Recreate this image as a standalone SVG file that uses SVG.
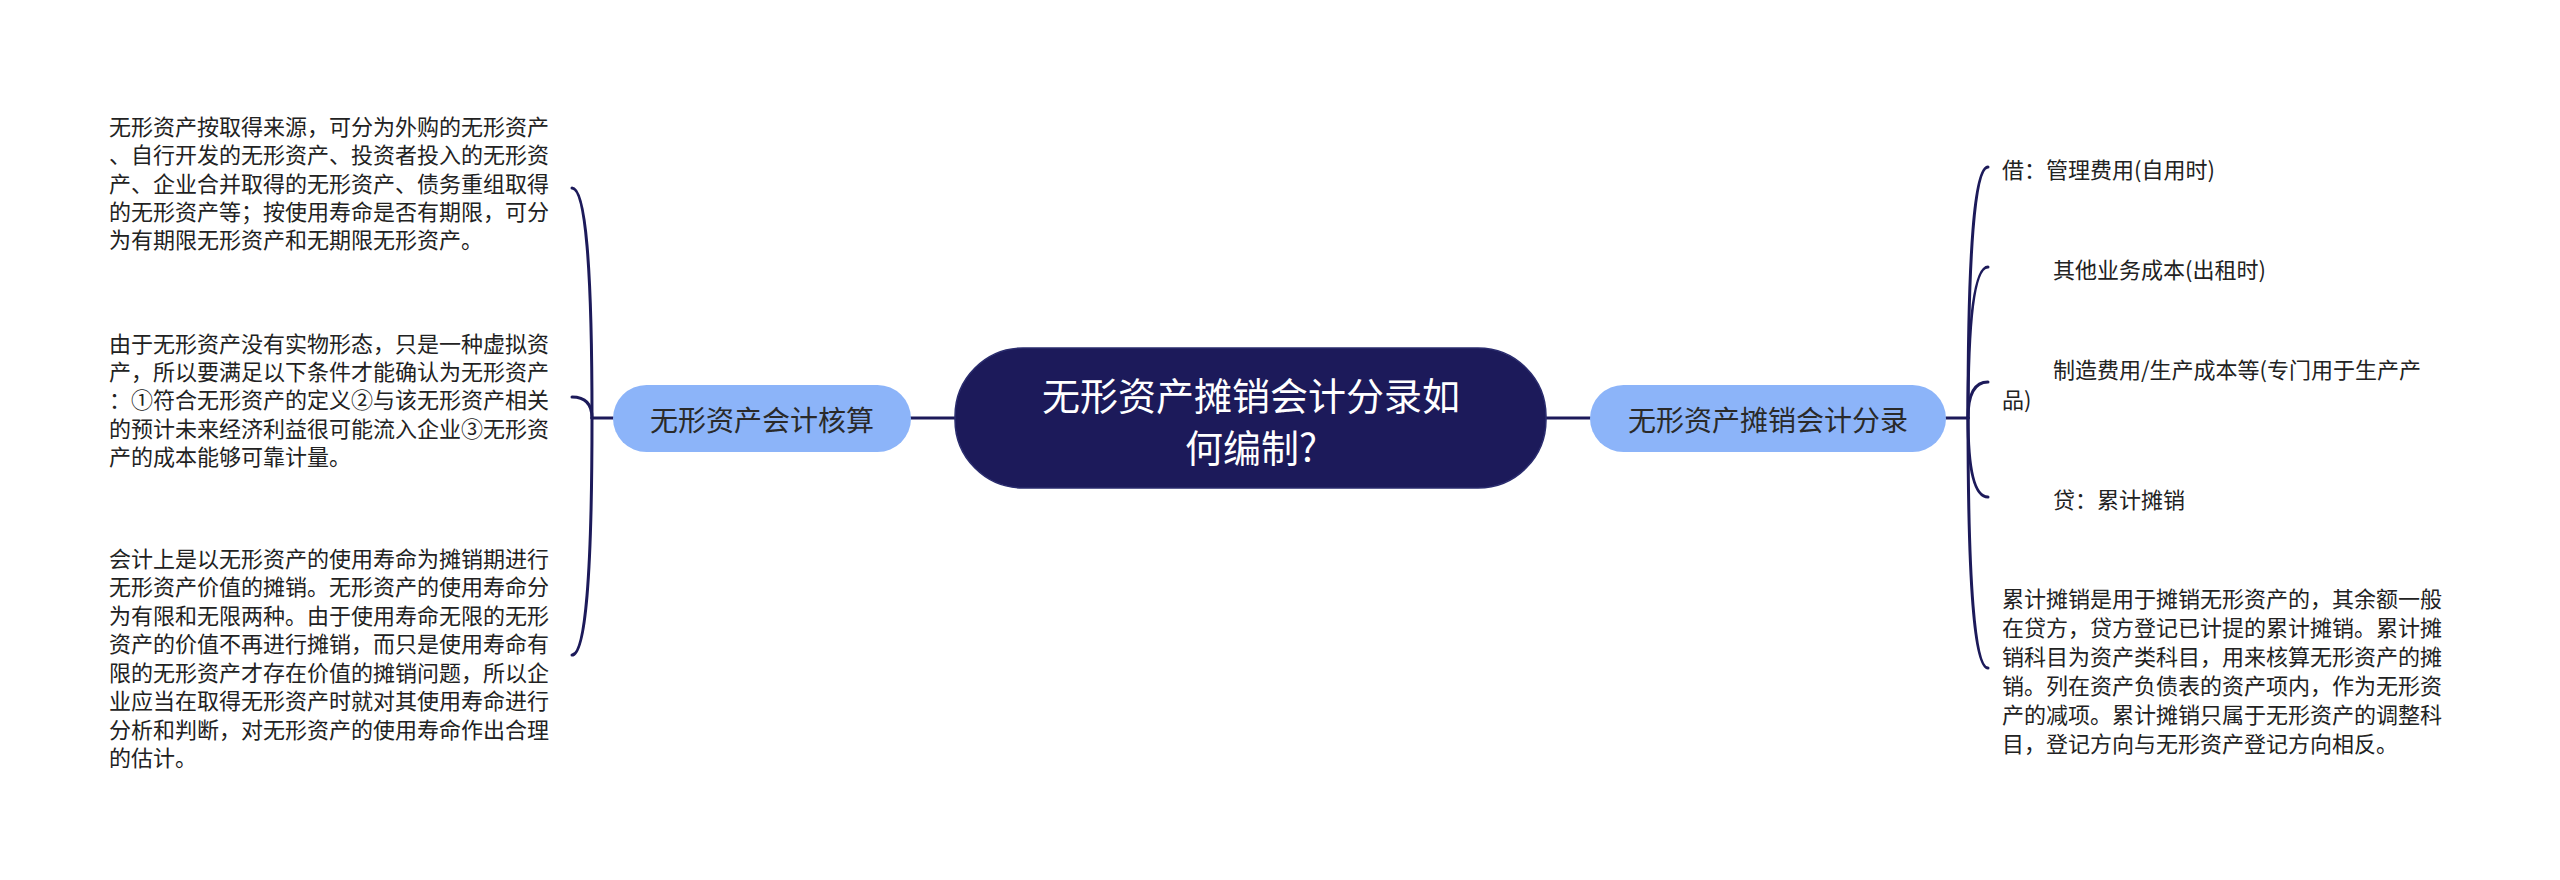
<svg xmlns="http://www.w3.org/2000/svg" width="2560" height="880" viewBox="0 0 2560 880">
<style>
text{font-family:"Noto Sans CJK SC","Noto Sans",sans-serif;dominant-baseline:central}
.t{font-size:22px;fill:#222}
.sub{fill:#8cb4f9}
.subt{font-size:28px;fill:#2a2a2a;text-anchor:middle}
.root{fill:#1c1a5a;stroke:#2a2c6e;stroke-width:1.5}
.roott{font-size:38px;fill:#ffffff;text-anchor:middle}
.c{fill:none;stroke:#1c1a5a;stroke-width:3;stroke-linecap:round}
</style>
<rect width="2560" height="880" fill="#ffffff"/>
<g id="connectors">
<path class="c" d="M909 418 L955 418"/>
<path class="c" d="M1546 418 L1590 418"/>
<path class="c" d="M613 418 L592 418"/>
<path class="c" d="M592 418 Q592 188 572 188"/>
<path class="c" d="M592 418 Q592 397 572 397"/>
<path class="c" d="M592 418 Q592 655 572 655"/>
<path class="c" d="M1946 418 L1968 418"/>
<path class="c" d="M1968 418 Q1968 167 1988 167"/>
<path class="c" d="M1968 418 Q1968 267 1988 267"/>
<path class="c" d="M1968 418 Q1968 382 1988 382"/>
<path class="c" d="M1968 418 Q1968 497 1988 497"/>
<path class="c" d="M1968 418 Q1968 668 1988 668"/>
</g>
<g id="root">
<rect class="root" x="955" y="348" width="591" height="140" rx="68" ry="68"/>
<text class="roott" x="1251" y="393">无形资产摊销会计分录如</text>
<text class="roott" x="1251" y="445">何编制?</text>
</g>
<g id="left-main">
<rect class="sub" x="613" y="385" width="298" height="67" rx="33.5"/>
<text class="subt" x="762" y="419">无形资产会计核算</text>
</g>
<g id="right-main">
<rect class="sub" x="1590" y="385" width="356" height="67" rx="33.5"/>
<text class="subt" x="1768" y="419">无形资产摊销会计分录</text>
</g>
<g id="left-1">
<text class="t" x="109" y="125">无形资产按取得来源，可分为外购的无形资产</text>
<text class="t" x="109" y="153">、自行开发的无形资产、投资者投入的无形资</text>
<text class="t" x="109" y="182">产、企业合并取得的无形资产、债务重组取得</text>
<text class="t" x="109" y="210">的无形资产等；按使用寿命是否有期限，可分</text>
<text class="t" x="109" y="238">为有期限无形资产和无期限无形资产。</text>
</g>
<g id="left-2">
<text class="t" x="109" y="342">由于无形资产没有实物形态，只是一种虚拟资</text>
<text class="t" x="109" y="370">产，所以要满足以下条件才能确认为无形资产</text>
<text class="t" x="109" y="398">：①符合无形资产的定义②与该无形资产相关</text>
<text class="t" x="109" y="427">的预计未来经济利益很可能流入企业③无形资</text>
<text class="t" x="109" y="455">产的成本能够可靠计量。</text>
</g>
<g id="left-3">
<text class="t" x="109" y="557">会计上是以无形资产的使用寿命为摊销期进行</text>
<text class="t" x="109" y="585">无形资产价值的摊销。无形资产的使用寿命分</text>
<text class="t" x="109" y="614">为有限和无限两种。由于使用寿命无限的无形</text>
<text class="t" x="109" y="642">资产的价值不再进行摊销，而只是使用寿命有</text>
<text class="t" x="109" y="671">限的无形资产才存在价值的摊销问题，所以企</text>
<text class="t" x="109" y="699">业应当在取得无形资产时就对其使用寿命进行</text>
<text class="t" x="109" y="728">分析和判断，对无形资产的使用寿命作出合理</text>
<text class="t" x="109" y="756">的估计。</text>
</g>
<g id="right-1">
<text class="t" x="2002" y="168">借：管理费用(自用时)</text>
</g>
<g id="right-2">
<text class="t" x="2053" y="268">其他业务成本(出租时)</text>
</g>
<g id="right-3">
<text class="t" x="2053" y="368">制造费用/生产成本等(专门用于生产产</text>
<text class="t" x="2002" y="398">品)</text>
</g>
<g id="right-4">
<text class="t" x="2053" y="498">贷：累计摊销</text>
</g>
<g id="right-5">
<text class="t" x="2002" y="597">累计摊销是用于摊销无形资产的，其余额一般</text>
<text class="t" x="2002" y="626">在贷方，贷方登记已计提的累计摊销。累计摊</text>
<text class="t" x="2002" y="655">销科目为资产类科目，用来核算无形资产的摊</text>
<text class="t" x="2002" y="684">销。列在资产负债表的资产项内，作为无形资</text>
<text class="t" x="2002" y="713">产的减项。累计摊销只属于无形资产的调整科</text>
<text class="t" x="2002" y="742">目，登记方向与无形资产登记方向相反。</text>
</g>
</svg>
